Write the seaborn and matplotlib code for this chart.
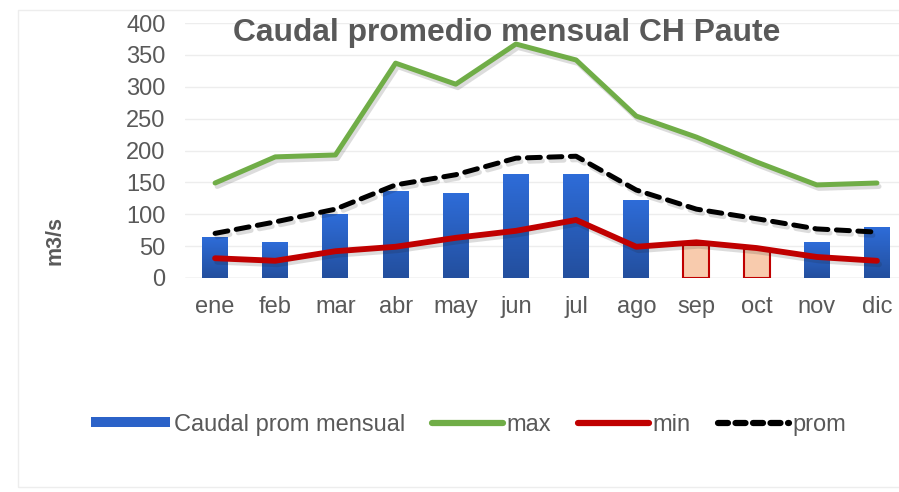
import matplotlib
matplotlib.use("Agg")
import matplotlib.pyplot as plt
import matplotlib.patheffects as pe
from matplotlib.patches import Patch, Rectangle
from matplotlib.lines import Line2D
from matplotlib.legend_handler import HandlerPatch
from matplotlib.colors import LinearSegmentedColormap
import numpy as np
import seaborn as sns
import pandas as pd

meses = ['ene', 'feb', 'mar', 'abr', 'may', 'jun', 'jul', 'ago', 'sep', 'oct', 'nov', 'dic']
caudal_prom = [64, 55, 99, 135, 132, 162, 163, 122, 52, 46, 55, 80]
caudal_max = [149, 190, 193, 337, 304, 367, 342, 254, 221, 182, 146, 149]
caudal_min = [31, 27, 42, 49, 63, 74, 91, 49, 56, 47, 33, 27]
prom = [70, 88, 108, 146, 162, 188, 191, 138, 108, 93, 77, 72]
estiaje = ['sep', 'oct']  # meses secos, barras resaltadas

sns.set_theme(style="white")
plt.rcParams['font.family'] = ['Liberation Sans', 'DejaVu Sans']
gris = '#595959'

df = pd.DataFrame({'mes': meses, 'caudal': caudal_prom,
                   'max': caudal_max, 'min': caudal_min, 'prom': prom})
df['pos'] = range(len(meses))

fig = plt.figure(figsize=(8.99, 4.92), dpi=100)
ax = fig.add_axes([185 / 899, 1 - 278 / 492, 722 / 899, 255 / 492])

colores = {m: ('#F8CBAD' if m in estiaje else '#2B62C8') for m in meses}
sns.barplot(data=df, x='mes', y='caudal', hue='mes', palette=colores, saturation=1,
            legend=False, width=0.43, ax=ax, zorder=2)

# degradado azul dentro de las barras (como en Excel)
degradado = LinearSegmentedColormap.from_list('azul', ['#234F9E', '#2E6CD8'])
for barra, m in zip(list(ax.patches), meses):
    if m in estiaje:
        barra.set_edgecolor('#C00000')
        barra.set_linewidth(1.5)
        continue
    barra.set_edgecolor('none')
    x0, w, h = barra.get_x(), barra.get_width(), barra.get_height()
    ax.imshow(np.linspace(1, 0, 64).reshape(-1, 1), cmap=degradado, aspect='auto',
              extent=(x0, x0 + w, 0, h), zorder=2.1, interpolation='bilinear')

sombra = [pe.SimpleLineShadow(offset=(1.5, -2.5), alpha=0.15, shadow_color='k'), pe.Normal()]
sns.lineplot(data=df, x='pos', y='max', color='#70AD47', lw=3.6, ax=ax, zorder=3,
             solid_capstyle='round', path_effects=sombra)
sns.lineplot(data=df, x='pos', y='min', color='#C00000', lw=4.2, ax=ax, zorder=4,
             solid_capstyle='round', path_effects=sombra)
sns.lineplot(data=df, x='pos', y='prom', color='black', lw=3.6, ax=ax, zorder=4,
             dashes=(2.6, 1.7), dash_capstyle='round', path_effects=sombra)

ax.set_xlim(-0.5, 11.5)
ax.set_ylim(0, 400)
ax.set_yticks(range(0, 401, 50))
ax.yaxis.grid(True, color='#EDEDED', lw=1, zorder=0)
ax.set_axisbelow(True)
for s in ax.spines.values():
    s.set_visible(False)
ax.axhline(0, color='#D9D9D9', lw=1, zorder=1)
ax.tick_params(axis='both', colors=gris, labelsize=17, length=0)
ax.tick_params(axis='x', pad=13)
ax.tick_params(axis='y', pad=14)
ax.set_xlabel('')
ax.set_ylabel('m3/s', color=gris, fontsize=15.5, fontweight='bold')
ax.yaxis.set_label_coords(-0.165, 0.149)

fig.text(0.564, 0.933, 'Caudal promedio mensual CH Paute', ha='center', va='center',
         fontsize=22.9, fontweight='bold', color=gris)


class BarraAncha(HandlerPatch):
    def create_artists(self, legend, orig, xd, yd, width, height, fontsize, trans):
        r = Rectangle((-xd - 6, -yd + 0.15 * height), width + 6, height * 0.75,
                      facecolor='#2B62C8', edgecolor='none', transform=trans)
        return [r]


handles = [
    Patch(facecolor='#2B62C8', edgecolor='none'),
    Line2D([], [], color='#70AD47', lw=4.5, solid_capstyle='round'),
    Line2D([], [], color='#C00000', lw=4.5, solid_capstyle='round'),
    Line2D([], [], color='black', lw=4.5, dashes=(1.6, 1.2), dash_capstyle='round'),
]
labels = ['Caudal prom mensual', 'max', 'min', 'prom']
fig.legend(handles, labels, loc='center', bbox_to_anchor=(0.526, 0.137), ncol=4,
           frameon=False, fontsize=17, labelcolor=gris, handlelength=3.0,
           handleheight=0.55, handletextpad=0.15, columnspacing=1.15,
           handler_map={Patch: BarraAncha()})

fig.patches.append(Rectangle((18 / 899, 0.01), 0.99, 0.97, transform=fig.transFigure,
                             fill=False, edgecolor='#EDEDED', lw=1))

fig.savefig('out.png', dpi=100)
